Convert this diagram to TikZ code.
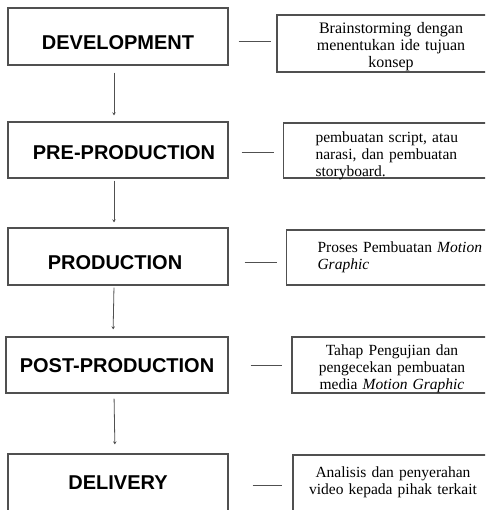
\documentclass[tikz,border=0pt]{standalone}
\usepackage{fontspec}
\setmainfont{Liberation Serif}
\setsansfont{Liberation Sans}
\usetikzlibrary{arrows.meta}
\definecolor{edge}{HTML}{505050}
\begin{document}
\begin{tikzpicture}[x=1pt,y=-1pt,
  lbox/.style={draw=edge, line width=1.3pt, minimum width=220pt, minimum height=57pt,
    inner sep=0pt, text height=#1, text depth=0pt,
    font=\sffamily\bfseries\fontsize{20}{24}\selectfont},
  rbox/.style={draw=edge, line width=1.1pt, minimum height=57pt, inner ysep=0pt,
    font=\fontsize{15.5}{17}\selectfont},
  flow/.style={draw=edge, line width=0.8pt, -{Stealth[length=3pt,width=3.5pt]}},
  conn/.style={draw=edge, line width=0.9pt}]
\clip (0,0) rectangle (485,510);
\fill[white] (0,0) rectangle (485,510);
% left boxes
\node[lbox=25.3pt] (l1) at (118,36.5) {DEVELOPMENT};
\node[lbox=18.3pt, minimum height=56pt] (l2) at (118,150) {\hspace*{12pt}PRE-PRODUCTION};
\node[lbox=26.3pt] (l3) at (118,256.5) {PRODUCTION\hspace*{6pt}};
\node[lbox=14.3pt, minimum width=222pt, minimum height=56pt] (l4) at (117,365) {POST-PRODUCTION};
\node[lbox=14.3pt] (l5) at (118,482.5) {DELIVERY};
% right boxes
\node[rbox, inner xsep=0pt, text width=228pt, align=center, text height=16pt, text depth=35pt,
  font=\fontsize{16}{17}\selectfont] (r1) at (391,43.5)
  {Brainstorming dengan\\menentukan ide tujuan\\konsep};
\node[rbox, inner xsep=32pt, text width=165pt, align=left, text height=16pt, text depth=31pt,
  minimum height=55pt] (r2) at (283,150.5) [anchor=west]
  {pembuatan script, atau\\narasi, dan pembuatan\\storyboard.};
\node[rbox, inner xsep=31pt, text width=165pt, align=left, text height=16pt, text depth=27pt,
  minimum height=55pt] (r3) at (286,257.5) [anchor=west]
  {Proses Pembuatan \textit{Motion}\\\textit{Graphic}};
\node[rbox, inner xsep=0pt, text width=200pt, align=center, text height=16pt, text depth=36pt,
  minimum height=56pt] (r4) at (392,365)
  {Tahap Pengujian dan\\pengecekan pembuatan\\media \textit{Motion Graphic}};
\node[rbox, inner xsep=0pt, text width=200pt, align=center, text height=16pt, text depth=29pt] (r5) at (393,483.5)
  {Analisis dan penyerahan\\video kepada pihak terkait};
% vertical arrows
\draw[flow, shorten <=7pt, shorten >=6pt] ([xshift=-4pt]l1.south) -- ([xshift=-4pt]l2.north);
\draw[flow, shorten <=2pt, shorten >=5pt] ([xshift=-4pt]l2.south) -- ([xshift=-4pt]l3.north);
\draw[flow, shorten <=2pt, shorten >=7pt] ([xshift=-4pt]l3.south) -- ([xshift=-4pt]l4.north);
\draw[flow, shorten <=5pt, shorten >=9pt] ([xshift=-3pt]l4.south) -- ([xshift=-3pt]l5.north);
% horizontal connectors
\draw[conn, shorten <=10pt, shorten >=5pt] (l1.east |- 0,41) -- (r1.west |- 0,41);
\draw[conn, shorten <=13pt, shorten >=9pt] (l2.east |- 0,152) -- (r2.west |- 0,152);
\draw[conn, shorten <=16pt, shorten >=9pt] (l3.east |- 0,262) -- (r3.west |- 0,262);
\draw[conn, shorten <=22pt, shorten >=9pt] (l4.east |- 0,365) -- (r4.west |- 0,365);
\draw[conn, shorten <=24pt, shorten >=10pt] (l5.east |- 0,485) -- (r5.west |- 0,485);
\end{tikzpicture}
\end{document}
